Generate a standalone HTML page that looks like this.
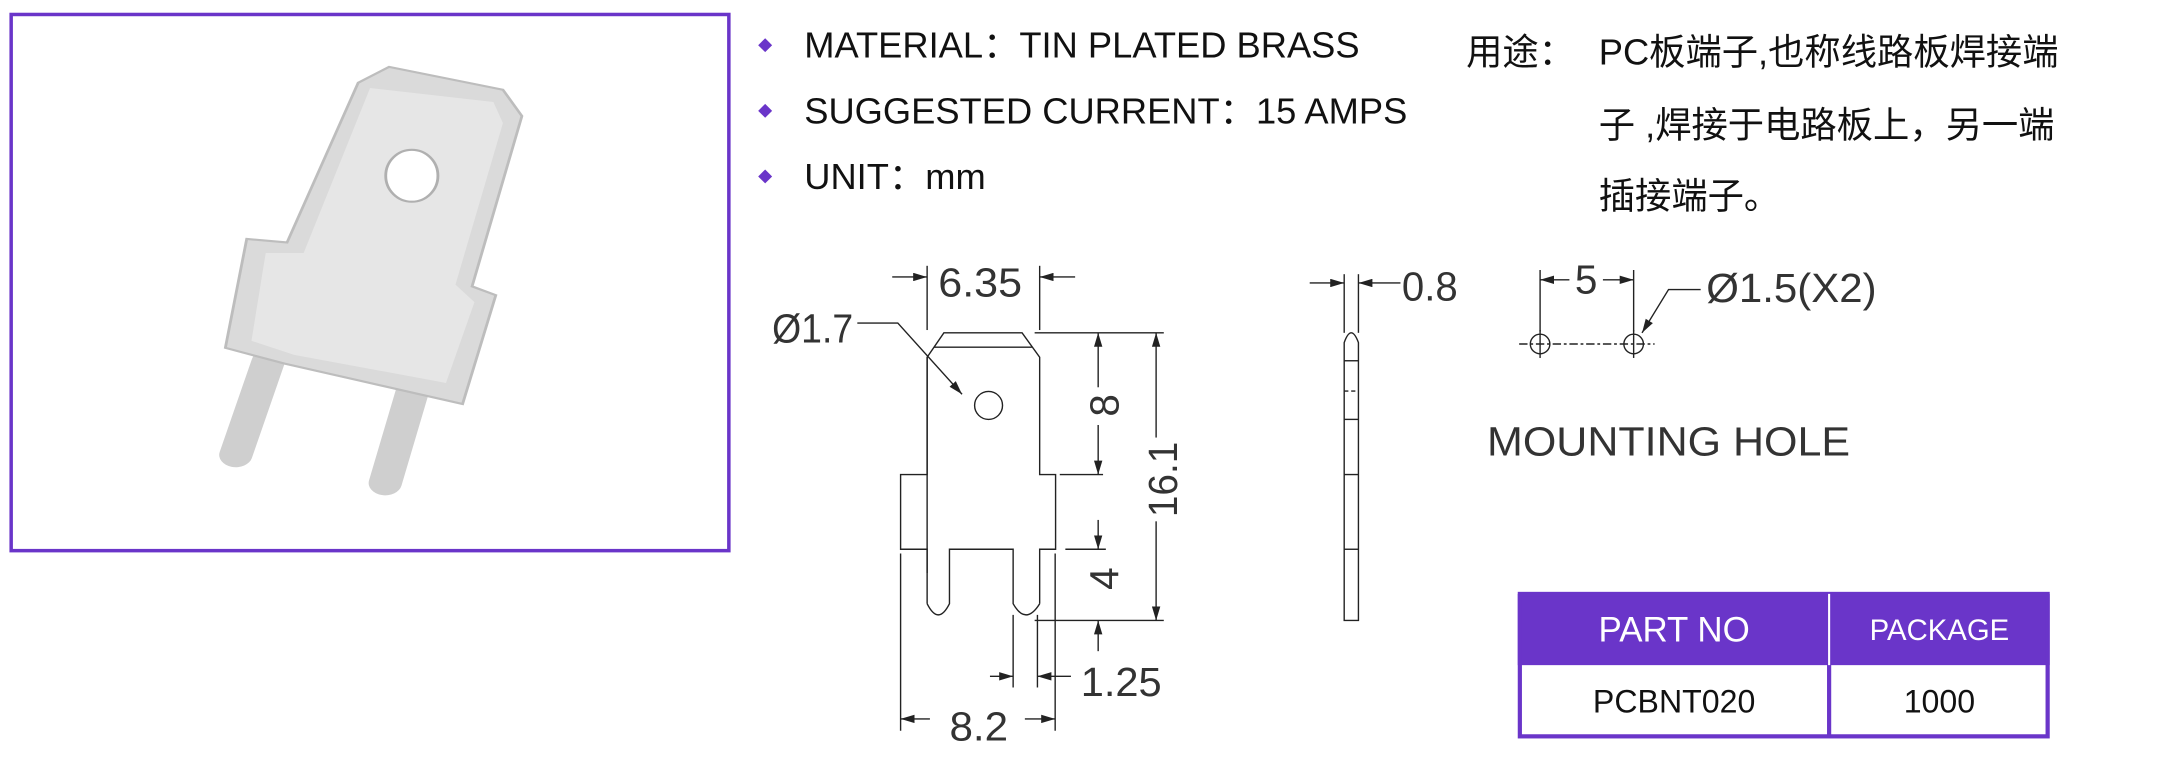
<!DOCTYPE html>
<html><head><meta charset="utf-8"><style>
html,body{margin:0;padding:0;background:#fff;}
svg{display:block;}
.d{font-family:"Liberation Sans","DejaVu Sans",sans-serif;fill:#333;}
.t{font-family:"Liberation Sans","Noto Sans CJK SC",sans-serif;fill:#111;}
</style></head><body>
<svg width="2174" height="762" viewBox="0 0 1557 545" xmlns="http://www.w3.org/2000/svg">
<defs>
<marker id="a" viewBox="0 0 10 6" refX="10" refY="3" markerWidth="10" markerHeight="6" markerUnits="userSpaceOnUse" orient="auto"><path d="M0,0 L10,3 L0,6 z" fill="#222"/></marker>
</defs>
<!-- photo box -->
<rect x="8" y="10" width="514" height="384" fill="#fff" stroke="#6a35c9" stroke-width="2.5"/>
<g transform="translate(0,7.3) scale(0.3398,0.2515)">
 <line x1="565" y1="1000" x2="497" y2="1265" stroke="#cfcfcf" stroke-width="70" stroke-linecap="round"/>
 <line x1="870" y1="1080" x2="812" y2="1345" stroke="#cfcfcf" stroke-width="70" stroke-linecap="round"/>
 <polygon points="755,205 820,160 1060,225 1100,300 995,785 1045,810 975,1120 600,1005 475,960 520,650 605,660" fill="#dadada" stroke="#bdbdbd" stroke-width="6"/>
 <polygon points="780,220 1040,260 1060,320 960,780 1000,830 940,1060 620,980 530,940 560,690 640,690" fill="#e6e6e6"/>
 <ellipse cx="868" cy="470" rx="55" ry="74" fill="#fff" stroke="#b0b0b0" stroke-width="6"/>
</g>
<!-- bullets -->
<g fill="#6a35c9"><path d="M548,27 l5,5 l-5,5 l-5,-5z"/><path d="M548,74 l5,5 l-5,5 l-5,-5z"/><path d="M548,121 l5,5 l-5,5 l-5,-5z"/></g>
<g class="t" font-size="26">
<text x="576" y="41">MATERIAL：TIN PLATED BRASS</text>
<text x="576" y="88">SUGGESTED CURRENT：15 AMPS</text>
<text x="576" y="135">UNIT：mm</text>
<text x="1050" y="46">用途：</text>
<text x="1145" y="46">PC板端子,也称线路板焊接端</text>
<text x="1145" y="98">子  ,焊接于电路板上，另一端</text>
<text x="1145" y="149">插接端子。</text>
</g>
<!-- drawing -->
<g fill="none" stroke="#222" stroke-width="1">
 <polyline points="664,410 664,255.5 676,238 732,238 744.6,255.5 744.6,339.5 756,339.5 756,393 744.6,393 744.6,432"/>
 <polyline points="664,255.5 664,339.5 645,339.5 645,393 664,393 664,432"/>
 <line x1="669" y1="248.3" x2="739" y2="248.3"/>
 <path d="M664,432 q8,16 16,0 L680,393 L725.6,393 L725.6,432 q9,16 19,0"/>
 <circle cx="708" cy="290" r="10"/>
 <polyline points="614,231 643,231 689,282" marker-end="url(#a)"/>
 <line x1="664" y1="190" x2="664" y2="236"/><line x1="744.6" y1="190" x2="744.6" y2="236"/>
 <line x1="639" y1="198" x2="664" y2="198" marker-end="url(#a)"/><line x1="770" y1="198" x2="744.6" y2="198" marker-end="url(#a)"/>
 <line x1="741" y1="238" x2="833.5" y2="238"/><line x1="759" y1="339.5" x2="790" y2="339.5"/>
 <line x1="763" y1="393" x2="792" y2="393"/><line x1="741" y1="444" x2="833.5" y2="444"/>
 <line x1="786.5" y1="277" x2="786.5" y2="238" marker-end="url(#a)"/><line x1="786.5" y1="304" x2="786.5" y2="339.5" marker-end="url(#a)"/>
 <line x1="786.5" y1="372" x2="786.5" y2="393" marker-end="url(#a)"/><line x1="786.5" y1="466" x2="786.5" y2="444" marker-end="url(#a)"/>
 <line x1="828" y1="313" x2="828" y2="238" marker-end="url(#a)"/><line x1="828" y1="373" x2="828" y2="444" marker-end="url(#a)"/>
 <line x1="725.6" y1="440" x2="725.6" y2="492"/><line x1="743" y1="440" x2="743" y2="492"/>
 <line x1="709" y1="484" x2="725.6" y2="484" marker-end="url(#a)"/><line x1="767" y1="484" x2="743" y2="484" marker-end="url(#a)"/>
 <line x1="645" y1="396" x2="645" y2="523"/><line x1="755.7" y1="396" x2="755.7" y2="523"/>
 <line x1="666" y1="514.5" x2="645" y2="514.5" marker-end="url(#a)"/><line x1="734" y1="514.5" x2="755.7" y2="514.5" marker-end="url(#a)"/>
 <path d="M962.7,444 L962.7,245 q5,-14 10.2,0 L972.9,444 Z"/>
 <line x1="962.7" y1="258" x2="972.9" y2="258"/><line x1="962.7" y1="279.7" x2="972.9" y2="279.7" stroke-dasharray="3,2"/>
 <line x1="962.7" y1="300" x2="972.9" y2="300"/><line x1="962.7" y1="339.5" x2="972.9" y2="339.5"/><line x1="962.7" y1="393" x2="972.9" y2="393"/>
 <line x1="962.7" y1="196" x2="962.7" y2="238"/><line x1="972.9" y1="196" x2="972.9" y2="238"/>
 <line x1="938" y1="202.3" x2="962.7" y2="202.3" marker-end="url(#a)"/><line x1="1003" y1="202.3" x2="972.9" y2="202.3" marker-end="url(#a)"/>
 <line x1="1103" y1="193" x2="1103" y2="237"/><line x1="1170" y1="193" x2="1170" y2="237"/>
 <line x1="1124" y1="200" x2="1103" y2="200" marker-end="url(#a)"/><line x1="1148" y1="200" x2="1170" y2="200" marker-end="url(#a)"/>
 <circle cx="1103" cy="246" r="7"/><circle cx="1170" cy="246" r="7"/>
 <line x1="1088" y1="246" x2="1185" y2="246" stroke-dasharray="6,2,2,2"/>
 <line x1="1103" y1="236" x2="1103" y2="256"/><line x1="1170" y1="236" x2="1170" y2="256"/>
 <polyline points="1218,207 1195,207 1176,238" marker-end="url(#a)"/>
</g>
<g class="d" font-size="29">
 <text x="702" y="212" text-anchor="middle" textLength="60" lengthAdjust="spacingAndGlyphs">6.35</text>
 <text x="553" y="245" textLength="58" lengthAdjust="spacingAndGlyphs">Ø1.7</text>
 <text transform="translate(801,290) rotate(-90)" text-anchor="middle">8</text>
 <text transform="translate(801,414) rotate(-90)" text-anchor="middle">4</text>
 <text transform="translate(843,343) rotate(-90)" text-anchor="middle" textLength="54" lengthAdjust="spacingAndGlyphs">16.1</text>
 <text x="774" y="498" textLength="58" lengthAdjust="spacingAndGlyphs">1.25</text>
 <text x="701" y="530" text-anchor="middle" textLength="42" lengthAdjust="spacingAndGlyphs">8.2</text>
 <text x="1004" y="215" textLength="40" lengthAdjust="spacingAndGlyphs">0.8</text>
 <text x="1136" y="210" text-anchor="middle">5</text>
 <text x="1222" y="216" textLength="122" lengthAdjust="spacingAndGlyphs">Ø1.5(X2)</text>
 <text x="1065" y="326" textLength="260" lengthAdjust="spacingAndGlyphs">MOUNTING  HOLE</text>
</g>
<rect x="1087" y="425" width="381" height="51" fill="#6a35c9"/>
<rect x="1088.5" y="425" width="378" height="102" fill="none" stroke="#6a35c9" stroke-width="3"/>
<line x1="1310" y1="425" x2="1310" y2="527" stroke="#6a35c9" stroke-width="3"/>
<line x1="1310" y1="425" x2="1310" y2="476" stroke="#fff" stroke-width="1.5"/>
<g font-family="Liberation Sans, sans-serif" text-anchor="middle">
 <text x="1199" y="459" font-size="25" fill="#fff">PART NO</text>
 <text x="1389" y="458" font-size="21" fill="#fff">PACKAGE</text>
 <text x="1199" y="510" font-size="23" fill="#111">PCBNT020</text>
 <text x="1389" y="510" font-size="23" fill="#111">1000</text>
</g>
</svg>
</body></html>
